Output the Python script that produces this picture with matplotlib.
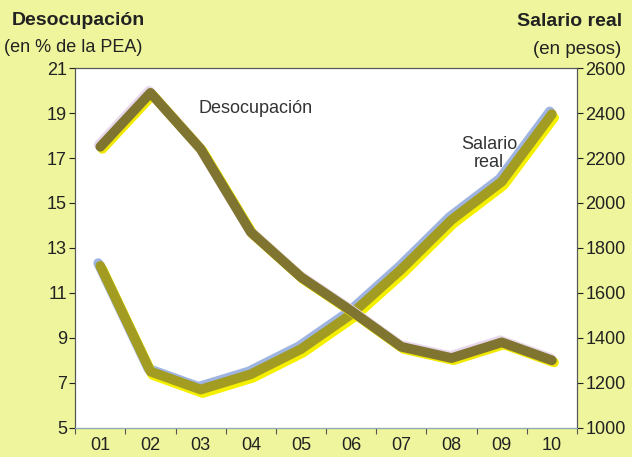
import matplotlib
matplotlib.use("Agg")
import matplotlib.pyplot as plt
import matplotlib.patheffects as pe

years = ['01', '02', '03', '04', '05', '06', '07', '08', '09', '10']
desocupacion = [17.5, 19.9, 17.4, 13.7, 11.7, 10.2, 8.6, 8.1, 8.8, 8.0]
salario = [1720, 1250, 1170, 1238, 1350, 1505, 1705, 1925, 2095, 2395]

plt.rcParams['font.family'] = ['Liberation Sans', 'DejaVu Sans']

bg = '#eef59c'
fig = plt.figure(figsize=(6.32, 4.57), dpi=100, facecolor=bg)
ax = fig.add_axes([0.119, 0.064, 0.794, 0.787])
ax2 = ax.twinx()
ax.set_zorder(ax2.get_zorder() + 1)
ax.patch.set_visible(False)
ax2.patch.set_facecolor('white')
ax2.patch.set_visible(True)

x = list(range(1, len(years) + 1))

# salario real: olive line with yellow shadow and blue highlight
ax2.plot(x, salario, color='#a29c22', lw=7, solid_capstyle='round', solid_joinstyle='round',
         path_effects=[pe.Stroke(offset=(-1.5, 2), linewidth=7, foreground='#9fb4e0'),
                       pe.Stroke(offset=(1.5, -2.5), linewidth=7, foreground='#f5f000'),
                       pe.Normal()])

# desocupacion: darker brown-olive line
ax.plot(x, desocupacion, color='#7f7430', lw=7, solid_capstyle='round', solid_joinstyle='round',
        path_effects=[pe.Stroke(offset=(-1, 1.5), linewidth=7, foreground='#e8d8ec'),
                      pe.Stroke(offset=(1.5, -1.5), linewidth=7, foreground='#f0e800'),
                      pe.Normal()])

ax.set_xlim(0.5, 10.5)
ax.set_ylim(5, 21)
ax.set_yticks(range(5, 22, 2))
ax2.set_ylim(1000, 2600)
ax2.set_yticks(range(1000, 2601, 200))

ax.set_xticks([i + 0.5 for i in range(0, 11)])
ax.set_xticklabels([])
ax.set_xticks(x, minor=True)
ax.set_xticklabels(years, minor=True)
ax.tick_params(axis='x', which='minor', length=0, pad=7, labelsize=13, colors='#222222')
ax.tick_params(axis='x', which='major', length=4, color='#555555')
ax.tick_params(axis='y', length=4, labelsize=13, colors='#222222', pad=2)
ax2.tick_params(axis='y', length=4, labelsize=13, colors='#222222', pad=2)

for a in (ax, ax2):
    for s in a.spines.values():
        s.set_color('#555555')
        s.set_linewidth(0.8)
ax.spines['bottom'].set_color('#8aa8b8')

ax.text(4.1, 19.2, 'Desocupación', fontsize=13, color='#333333', ha='center', va='center')
ax.text(8.75, 17.2, 'Salario\nreal', fontsize=13, color='#333333', ha='center', va='center',
        linespacing=1.1)

fig.text(0.018, 0.955, 'Desocupación', fontsize=14, fontweight='bold', color='#222222',
         ha='left', va='center')
fig.text(0.006, 0.895, '(en % de la PEA)', fontsize=13, color='#222222',
         ha='left', va='center')
fig.text(0.985, 0.952, 'Salario real', fontsize=14, fontweight='bold', color='#222222',
         ha='right', va='center')
fig.text(0.983, 0.892, '(en pesos)', fontsize=13.5, color='#222222',
         ha='right', va='center')

plt.savefig('out.png', dpi=100, facecolor=bg)
